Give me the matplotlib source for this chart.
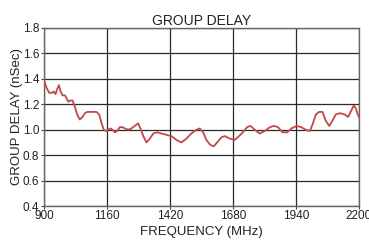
import matplotlib
matplotlib.use("Agg")
import matplotlib.pyplot as plt

freq_mhz = [900, 911, 922, 932, 941, 948, 955, 962, 969, 977, 987, 993, 1000, 1010,
            1018, 1028, 1037, 1048, 1059, 1069, 1079, 1096, 1117, 1128, 1138, 1147,
            1156, 1165, 1175, 1183, 1193, 1202, 1213, 1224, 1234, 1248, 1261, 1275,
            1289, 1298, 1310, 1323, 1337, 1351, 1367, 1385, 1406, 1426, 1447, 1467,
            1488, 1508, 1529, 1543, 1557, 1570, 1587, 1601, 1619, 1632, 1646, 1667,
            1687, 1705, 1721, 1738, 1752, 1770, 1790, 1811, 1832, 1848, 1866, 1884,
            1904, 1921, 1942, 1962, 1980, 1997, 2008, 2022, 2035, 2049, 2063, 2077,
            2090, 2104, 2121, 2141, 2155, 2168, 2178, 2186, 2195, 2200]
delay_ns = [1.39, 1.33, 1.29, 1.29, 1.30, 1.28, 1.32, 1.35, 1.30, 1.27, 1.27, 1.25, 1.22, 1.23,
            1.23, 1.18, 1.12, 1.08, 1.10, 1.13, 1.14, 1.14, 1.14, 1.12, 1.05, 1.00,
            0.99, 1.00, 1.01, 1.00, 0.98, 0.99, 1.02, 1.02, 1.01, 1.00, 1.01, 1.03,
            1.05, 1.01, 0.95, 0.90, 0.93, 0.97, 0.98, 0.97, 0.96, 0.95, 0.92, 0.90,
            0.93, 0.97, 1.00, 1.01, 0.98, 0.92, 0.88, 0.87, 0.91, 0.94, 0.95, 0.93,
            0.92, 0.95, 0.98, 1.02, 1.03, 1.00, 0.97, 0.99, 1.02, 1.03, 1.02, 0.98,
            0.98, 1.01, 1.03, 1.02, 1.00, 0.99, 1.04, 1.12, 1.14, 1.14, 1.07, 1.03,
            1.07, 1.12, 1.13, 1.12, 1.10, 1.15, 1.19, 1.17, 1.12, 1.10]
x_ticks = [900, 1160, 1420, 1680, 1940, 2200]
y_ticks = [0.4, 0.6, 0.8, 1.0, 1.2, 1.4, 1.6, 1.8]


def main():
    plt.rcParams["font.family"] = ["Liberation Sans", "DejaVu Sans"]
    fig = plt.figure(figsize=(3.69, 2.41), dpi=100)
    ax = fig.add_axes([0.119, 0.145, 0.854, 0.739])
    ax.plot(freq_mhz, delay_ns, color="#c4484b", lw=1.3, zorder=3)
    ax.set_xlim(900, 2200)
    ax.set_ylim(0.4, 1.8)
    ax.set_xticks(x_ticks)
    ax.set_yticks(y_ticks)
    ax.set_yticklabels([f"{v:.1f}" for v in y_ticks])
    ax.grid(True, color="#2a2a2a", lw=0.9)
    for sp in ax.spines.values():
        sp.set_color("#666666")
        sp.set_linewidth(1.0)
    ax.tick_params(axis="both", labelsize=8.5, length=2, color="#444444",
                   labelcolor="#222222")
    ax.tick_params(axis="x", pad=1)
    ax.tick_params(axis="y", pad=1.5)
    ax.set_title("GROUP DELAY", fontsize=10, pad=2, color="#222222")
    ax.set_xlabel("FREQUENCY (MHz)", fontsize=9.5, labelpad=3, color="#222222")
    ax.set_ylabel("GROUP DELAY (nSec)", fontsize=9.5, labelpad=0, color="#222222")
    fig.savefig("out.png", dpi=100)
    plt.close(fig)


if __name__ == "__main__":
    main()
